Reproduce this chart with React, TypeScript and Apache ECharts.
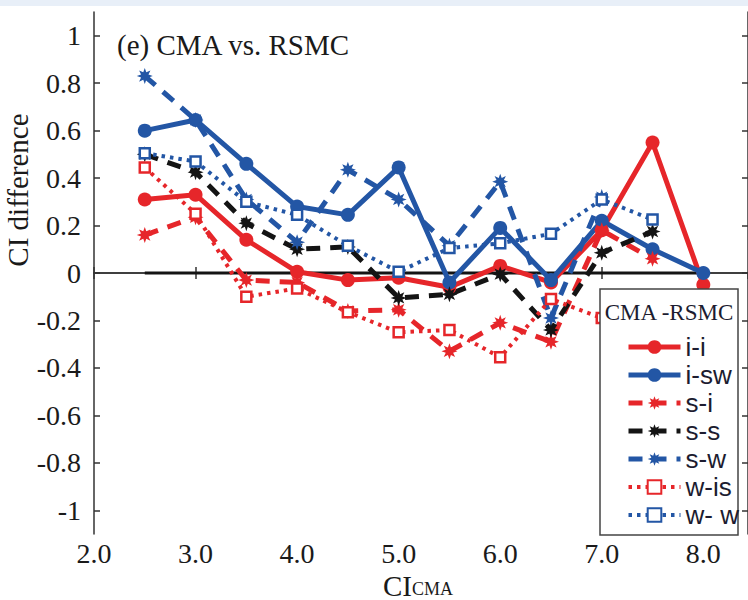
import React, { useEffect, useRef } from "react";
import * as echarts from "echarts";

// ---- data ----
const xValues = [2.5, 3.0, 3.5, 4.0, 4.5, 5.0, 5.5, 6.0, 6.5, 7.0, 7.5, 8.0];
const iiValues = [0.31, 0.33, 0.14, 0.005, -0.03, -0.02, -0.06, 0.03, -0.04, 0.18, 0.55, -0.05];
const iswValues = [0.6, 0.645, 0.46, 0.28, 0.245, 0.445, -0.04, 0.19, -0.03, 0.22, 0.1, 0.0];
const siValues = [0.16, 0.235, -0.03, -0.04, -0.16, -0.155, -0.33, -0.21, -0.29, 0.18, 0.06];
const ssValues = [0.5, 0.425, 0.21, 0.1, 0.11, -0.105, -0.09, -0.005, -0.24, 0.085, 0.175];
const swValues = [0.83, 0.645, 0.31, 0.13, 0.435, 0.31, 0.115, 0.385, -0.19, 0.32];
const wisValues = [0.445, 0.25, -0.1, -0.065, -0.165, -0.25, -0.24, -0.355, -0.11, -0.19];
const wwValues = [0.505, 0.47, 0.3, 0.245, 0.115, 0.005, 0.105, 0.125, 0.165, 0.31, 0.225];
const zeroLineX = [2.5, 8.0];
const yTickValues = [-1, -0.8, -0.6, -0.4, -0.2, 0, 0.2, 0.4, 0.6, 0.8, 1];
const legendNames = ["i-i", "i-sw", "s-i", "s-s", "s-w", "w-is", "w- w"];

const RED = "#e6262a";
const BLUE = "#2356a5";
const BLACK = "#141414";
const SERIF = "Liberation Serif";
const SANS = "Liberation Sans";

function starPath(): string {
  const pts: string[] = [];
  for (let k = 0; k < 16; k++) {
    const a = (k * Math.PI) / 8 - Math.PI / 2;
    const r = k % 2 ? 0.5 : 1;
    pts.push((10 + 10 * r * Math.cos(a)).toFixed(2) + "," + (10 + 10 * r * Math.sin(a)).toFixed(2));
  }
  return "path://M" + pts.join("L") + "Z";
}
const STAR = starPath();

function pair(vals: number[]) {
  return vals.map((v, i) => [xValues[i], v]);
}

export default function App() {
  const ref = useRef<HTMLDivElement>(null);
  useEffect(() => {
    if (!ref.current) return;
    const chart = echarts.init(ref.current, null, { renderer: "svg" });
    const dashed = [14, 10];
    const dotted = [3.5, 5];
    const widths: Record<string, number> = {
      "i-i": 5, "i-sw": 5, "s-i": 5, "s-s": 5, "s-w": 5, "w-is": 4, "w- w": 4,
    };
    const mk = (
      name: string,
      vals: number[],
      color: string,
      type: any,
      symbol: string,
      size: number,
      hollow = false
    ) => ({
      name,
      type: "line",
      data: pair(vals),
      symbol,
      symbolSize: size,
      showAllSymbol: true,
      lineStyle: { color, width: widths[name], type, cap: "butt" },
      itemStyle: hollow
        ? { color: "#fff", borderColor: color, borderWidth: 2.5 }
        : { color, borderColor: color, borderWidth: 0 },
      emphasis: { disabled: true },
      z: 3,
    });
    const axisLineStyle = { color: "#333", width: 1.5 };
    chart.setOption({
      animation: false,
      backgroundColor: "#fff",
      grid: { left: 94, right: 0, top: 12, bottom: 66, containLabel: false },
      xAxis: [
        {
          type: "value",
          min: 2,
          max: 8.44,
          interval: 1,
          axisLine: { show: true, lineStyle: axisLineStyle },
          axisTick: { show: true, inside: true, length: 6, lineStyle: axisLineStyle },
          splitLine: { show: false },
          axisLabel: {
            margin: 5,
            fontFamily: SERIF,
            fontSize: 28,
            color: "#1a1a1a",
            showMaxLabel: false,
            formatter: (v: number) => (Math.abs(v - Math.round(v)) < 1e-6 ? v.toFixed(1) : ""),
          },
        },
        {
          type: "value",
          position: "top",
          min: 2,
          max: 8.44,
          interval: 1,
          axisLine: { show: true, lineStyle: axisLineStyle },
          axisTick: { show: true, inside: true, length: 6, lineStyle: axisLineStyle },
          splitLine: { show: false },
          axisLabel: { show: false },
        },
      ],
      yAxis: [
        {
          type: "value",
          min: -1.1,
          max: 1.1,
          axisLine: { show: true, lineStyle: axisLineStyle },
          axisTick: {
            show: true,
            inside: true,
            length: 6,
            lineStyle: axisLineStyle,
            customValues: yTickValues,
          },
          splitLine: { show: false },
          axisLabel: {
            margin: 13,
            fontFamily: SERIF,
            fontSize: 28,
            color: "#1a1a1a",
            customValues: yTickValues,
            formatter: (v: number) =>
              Math.abs(v) < 1e-9 ? "0" : Math.abs(Math.abs(v) - 1) < 1e-9 ? String(Math.round(v)) : v.toFixed(1),
          },
        },
        {
          type: "value",
          position: "right",
          min: -1.1,
          max: 1.1,
          axisLine: { show: true, lineStyle: axisLineStyle },
          axisTick: {
            show: true,
            inside: true,
            length: 6,
            lineStyle: axisLineStyle,
            customValues: yTickValues,
          },
          splitLine: { show: false },
          axisLabel: { show: false },
        },
      ],
      legend: {
        data: legendNames.map((n) => ({ name: n, lineStyle: { width: widths[n] } })),
        orient: "vertical",
        left: 626,
        top: 334,
        itemWidth: 52,
        itemHeight: 17,
        itemGap: 2,
        padding: 0,
        textStyle: { fontFamily: SANS, fontSize: 26, color: "#1c1c30" },
        selectedMode: false,
        z: 10,
      },
      graphic: [
        { type: "rect", shape: { x: 0, y: 0, width: 748, height: 6 }, style: { fill: "#e8eff8" }, silent: true },
        {
          type: "rect",
          shape: { x: 600, y: 289, width: 138, height: 246 },
          style: { fill: "#fff", stroke: "#444", lineWidth: 1.5 },
          z: 5,
          silent: true,
        },
        {
          type: "text",
          x: 669,
          y: 312,
          style: {
            text: "CMA -RSMC",
            fontFamily: SERIF,
            fontSize: 23,
            fill: "#1c1c30",
            textAlign: "center",
            textVerticalAlign: "middle",
          },
          z: 6,
        },
        {
          type: "text",
          x: 117,
          y: 45,
          style: {
            text: "(e) CMA vs. RSMC",
            fontFamily: SERIF,
            fontSize: 29,
            fill: "#1a1a1a",
            textAlign: "left",
            textVerticalAlign: "middle",
          },
        },
        {
          type: "text",
          x: 18,
          y: 190,
          rotation: Math.PI / 2,
          style: {
            text: "CI difference",
            fontFamily: SERIF,
            fontSize: 29,
            fill: "#1a1a1a",
            textAlign: "center",
            textVerticalAlign: "middle",
          },
        },
        {
          type: "text",
          x: 383,
          y: 600,
          style: {
            text: "CI",
            fontFamily: SERIF,
            fontSize: 29,
            fill: "#1a1a1a",
            textAlign: "left",
            textVerticalAlign: "bottom",
          },
        },
        {
          type: "text",
          x: 412,
          y: 598,
          style: {
            text: "CMA",
            fontFamily: SERIF,
            fontSize: 18,
            fill: "#1a1a1a",
            textAlign: "left",
            textVerticalAlign: "bottom",
          },
        },
      ],
      series: [
        {
          name: "zero",
          type: "line",
          data: zeroLineX.map((x) => [x, 0]),
          symbol: "none",
          lineStyle: { color: BLACK, width: 3 },
          z: 2,
          emphasis: { disabled: true },
        },
        mk("i-i", iiValues, RED, "solid", "circle", 14),
        mk("i-sw", iswValues, BLUE, "solid", "circle", 14),
        mk("s-i", siValues, RED, dashed, STAR, 16),
        mk("s-s", ssValues, BLACK, dashed, STAR, 16),
        mk("s-w", swValues, BLUE, dashed, STAR, 16),
        mk("w-is", wisValues, RED, dotted, "rect", 10, true),
        mk("w- w", wwValues, BLUE, dotted, "rect", 10, true),
      ],
    });
    return () => chart.dispose();
  }, []);
  return (
    <div
      ref={ref}
      style={{ position: "fixed", left: 0, top: 0, width: 748, height: 600, background: "#fff" }}
    />
  );
}
